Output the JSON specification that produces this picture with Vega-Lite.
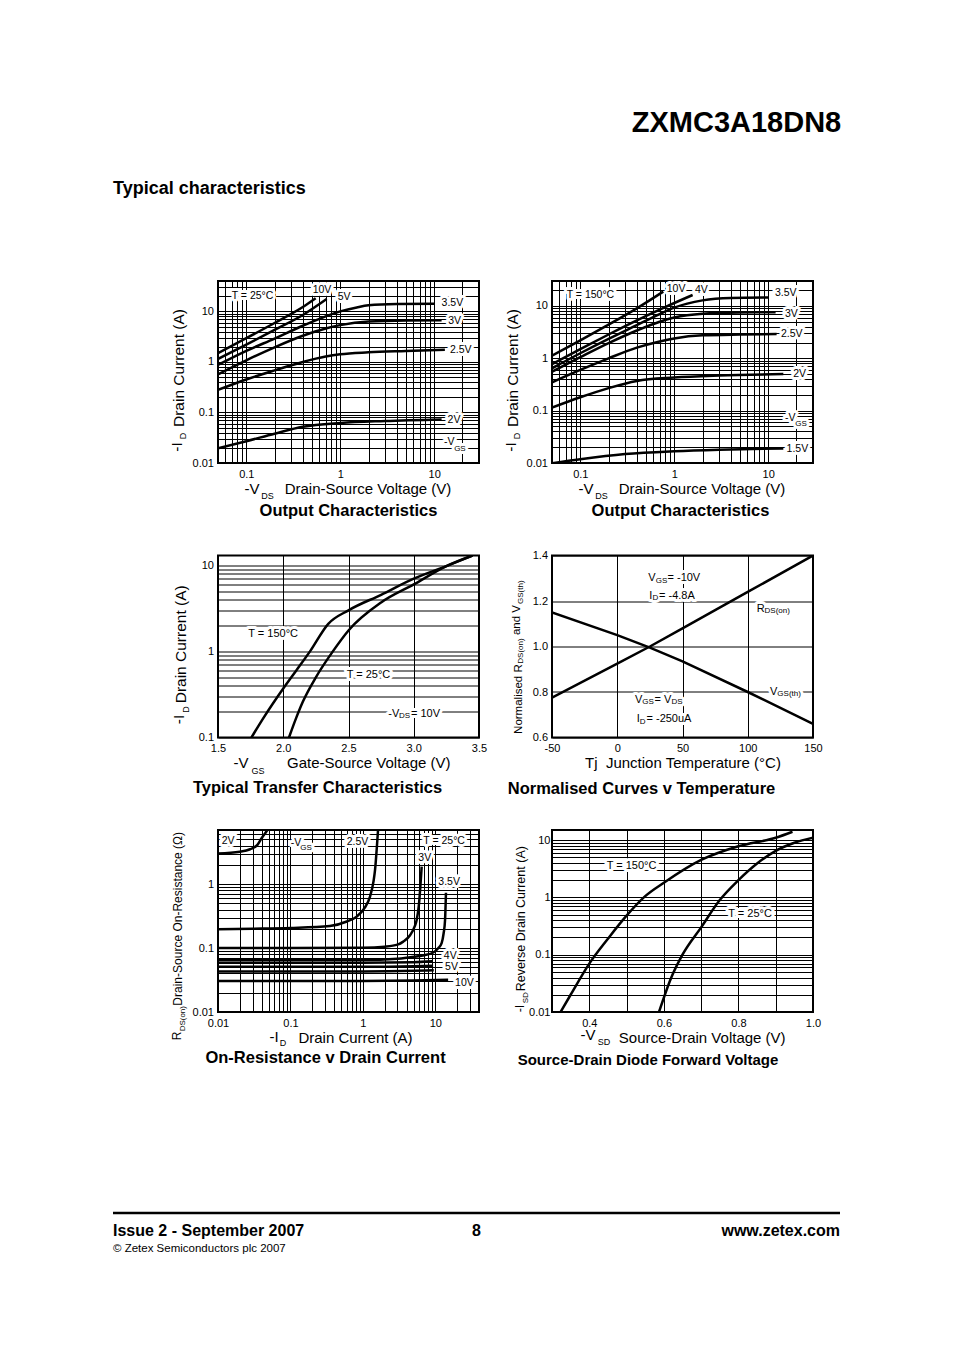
{
  "$schema": "https://vega.github.io/schema/vega-lite/v6.json",
  "background": "white",
  "padding": {"left": 111, "top": 109, "right": 5, "bottom": 10},
  "autosize": {"type": "pad"},
  "config": {
    "font": "Liberation Sans",
    "view": {"stroke": "black", "strokeWidth": 2},
    "axis": {"grid": true, "gridColor": "black", "gridOpacity": 1, "gridWidth": 1, "domain": false, "ticks": false, "labelFont": "Liberation Sans", "labelFontSize": 11, "labelColor": "black", "labelFlush": false, "labelOverlap": false, "labelPadding": 5, "titleFont": "Liberation Sans", "titleFontSize": 15, "titleFontWeight": "normal", "titleColor": "black", "titlePadding": 2},
    "axisY": {"labelPadding": 4.5, "titlePadding": 6, "titleFontSize": 15.5},
    "title": {"font": "Liberation Sans", "fontWeight": "bold", "color": "black"},
    "text": {"font": "Liberation Sans", "color": "black"}
  },
  "datasets": {
    "p1c": [
      {"vgs": "10V", "vds": 0.05, "id": 1.5}, {"vgs": "10V", "vds": 0.1, "id": 2.95}, {"vgs": "10V", "vds": 0.2, "id": 5.9}, {"vgs": "10V", "vds": 0.4, "id": 12.2}, {"vgs": "10V", "vds": 0.548, "id": 18.2},
      {"vgs": "5V", "vds": 0.05, "id": 1.15}, {"vgs": "5V", "vds": 0.1, "id": 2.2}, {"vgs": "5V", "vds": 0.2, "id": 4.3}, {"vgs": "5V", "vds": 0.4, "id": 8.5}, {"vgs": "5V", "vds": 0.718, "id": 17.6},
      {"vgs": "3.5V", "vds": 0.05, "id": 0.87}, {"vgs": "3.5V", "vds": 0.1, "id": 1.65}, {"vgs": "3.5V", "vds": 0.2, "id": 2.9}, {"vgs": "3.5V", "vds": 0.4, "id": 5.2}, {"vgs": "3.5V", "vds": 0.7, "id": 8.0}, {"vgs": "3.5V", "vds": 1, "id": 10}, {"vgs": "3.5V", "vds": 1.5, "id": 12}, {"vgs": "3.5V", "vds": 2, "id": 13.2}, {"vgs": "3.5V", "vds": 4, "id": 14}, {"vgs": "3.5V", "vds": 10, "id": 14.2},
      {"vgs": "3V", "vds": 0.05, "id": 0.57}, {"vgs": "3V", "vds": 0.1, "id": 1.08}, {"vgs": "3V", "vds": 0.2, "id": 1.95}, {"vgs": "3V", "vds": 0.4, "id": 3.3}, {"vgs": "3V", "vds": 0.7, "id": 4.6}, {"vgs": "3V", "vds": 1, "id": 5.35}, {"vgs": "3V", "vds": 2, "id": 6.3}, {"vgs": "3V", "vds": 5, "id": 6.6}, {"vgs": "3V", "vds": 12, "id": 6.65},
      {"vgs": "2.5V", "vds": 0.05, "id": 0.28}, {"vgs": "2.5V", "vds": 0.1, "id": 0.45}, {"vgs": "2.5V", "vds": 0.2, "id": 0.68}, {"vgs": "2.5V", "vds": 0.4, "id": 1.0}, {"vgs": "2.5V", "vds": 0.7, "id": 1.28}, {"vgs": "2.5V", "vds": 1, "id": 1.42}, {"vgs": "2.5V", "vds": 2, "id": 1.55}, {"vgs": "2.5V", "vds": 5, "id": 1.65}, {"vgs": "2.5V", "vds": 13, "id": 1.75},
      {"vgs": "2V", "vds": 0.05, "id": 0.0196}, {"vgs": "2V", "vds": 0.1, "id": 0.027}, {"vgs": "2V", "vds": 0.2, "id": 0.038}, {"vgs": "2V", "vds": 0.4, "id": 0.052}, {"vgs": "2V", "vds": 1, "id": 0.062}, {"vgs": "2V", "vds": 3, "id": 0.068}, {"vgs": "2V", "vds": 12, "id": 0.073}
    ],
    "p1l": [
      {"vds": 0.07, "id": 20.6, "label": "T = 25°C"},
      {"vds": 0.509, "id": 26.5, "label": "10V"},
      {"vds": 0.94, "id": 19.5, "label": "5V"},
      {"vds": 12.0, "id": 14.5, "label": "3.5V"},
      {"vds": 14.1, "id": 6.55, "label": "3V"},
      {"vds": 14.7, "id": 1.72, "label": "2.5V"},
      {"vds": 13.9, "id": 0.071, "label": "2V"},
      {"vds": 12.72, "id": 0.0264, "label": "-V"}
    ],
    "p1s": [{"vds": 18.8, "id": 0.0189, "label": "GS"}],
    "p1ap": [{"vds": 0.115, "id": 0.003058, "label": "-V"}],
    "p1as": [{"vds": 0.168, "id": 0.002254, "label": "DS"}],
    "p1rp": [{"vds": 0.01844, "id": 0.0207, "label": "-I"}],
    "p1rs": [{"vds": 0.02146, "id": 0.0342, "label": "D"}],
    "p2c": [
      {"vgs": "10V", "vds": 0.05, "id": 1.12}, {"vgs": "10V", "vds": 0.1, "id": 2.2}, {"vgs": "10V", "vds": 0.2, "id": 4.4}, {"vgs": "10V", "vds": 0.4, "id": 9}, {"vgs": "10V", "vds": 0.765, "id": 18.8},
      {"vgs": "4V", "vds": 0.05, "id": 0.77}, {"vgs": "4V", "vds": 0.1, "id": 1.5}, {"vgs": "4V", "vds": 0.2, "id": 2.85}, {"vgs": "4V", "vds": 0.4, "id": 5.3}, {"vgs": "4V", "vds": 0.8, "id": 9.5}, {"vgs": "4V", "vds": 1.57, "id": 16.2},
      {"vgs": "3.5V", "vds": 0.05, "id": 0.645}, {"vgs": "3.5V", "vds": 0.1, "id": 1.25}, {"vgs": "3.5V", "vds": 0.2, "id": 2.35}, {"vgs": "3.5V", "vds": 0.4, "id": 4.3}, {"vgs": "3.5V", "vds": 0.7, "id": 7}, {"vgs": "3.5V", "vds": 1, "id": 9.3}, {"vgs": "3.5V", "vds": 2, "id": 12.8}, {"vgs": "3.5V", "vds": 4, "id": 14.2}, {"vgs": "3.5V", "vds": 10, "id": 14.5},
      {"vgs": "3V", "vds": 0.05, "id": 0.555}, {"vgs": "3V", "vds": 0.1, "id": 1.05}, {"vgs": "3V", "vds": 0.2, "id": 1.95}, {"vgs": "3V", "vds": 0.4, "id": 3.4}, {"vgs": "3V", "vds": 0.7, "id": 5.0}, {"vgs": "3V", "vds": 1, "id": 6.0}, {"vgs": "3V", "vds": 2, "id": 7.1}, {"vgs": "3V", "vds": 5, "id": 7.5}, {"vgs": "3V", "vds": 12, "id": 7.6},
      {"vgs": "2.5V", "vds": 0.05, "id": 0.348}, {"vgs": "2.5V", "vds": 0.1, "id": 0.6}, {"vgs": "2.5V", "vds": 0.2, "id": 1.0}, {"vgs": "2.5V", "vds": 0.4, "id": 1.6}, {"vgs": "2.5V", "vds": 0.7, "id": 2.1}, {"vgs": "2.5V", "vds": 1, "id": 2.4}, {"vgs": "2.5V", "vds": 2, "id": 2.75}, {"vgs": "2.5V", "vds": 5, "id": 2.85}, {"vgs": "2.5V", "vds": 12.3, "id": 2.9},
      {"vgs": "2V", "vds": 0.05, "id": 0.114}, {"vgs": "2V", "vds": 0.1, "id": 0.18}, {"vgs": "2V", "vds": 0.2, "id": 0.27}, {"vgs": "2V", "vds": 0.4, "id": 0.37}, {"vgs": "2V", "vds": 1, "id": 0.43}, {"vgs": "2V", "vds": 3, "id": 0.47}, {"vgs": "2V", "vds": 14.5, "id": 0.5},
      {"vgs": "1.5V", "vds": 0.05, "id": 0.0099}, {"vgs": "1.5V", "vds": 0.1, "id": 0.0118}, {"vgs": "1.5V", "vds": 0.3, "id": 0.0148}, {"vgs": "1.5V", "vds": 1, "id": 0.0168}, {"vgs": "1.5V", "vds": 3, "id": 0.018}, {"vgs": "1.5V", "vds": 14.5, "id": 0.019}
    ],
    "p2l": [
      {"vds": 0.0717, "id": 16.2, "label": "T = 150°C"},
      {"vds": 0.832, "id": 21.1, "label": "10V"},
      {"vds": 1.66, "id": 20.2, "label": "4V"},
      {"vds": 11.8, "id": 17.5, "label": "3.5V"},
      {"vds": 15.1, "id": 6.93, "label": "3V"},
      {"vds": 13.7, "id": 2.88, "label": "2.5V"},
      {"vds": 18.5, "id": 0.495, "label": "2V"},
      {"vds": 15.1, "id": 0.0715, "label": "-V"},
      {"vds": 15.7, "id": 0.0185, "label": "1.5V"}
    ],
    "p2s": [{"vds": 22.4, "id": 0.0548, "label": "GS"}],
    "p2ap": [{"vds": 0.115, "id": 0.003187, "label": "-V"}],
    "p2as": [{"vds": 0.168, "id": 0.002393, "label": "DS"}],
    "p2rp": [{"vds": 0.01844, "id": 0.0202, "label": "-I"}],
    "p2rs": [{"vds": 0.02146, "id": 0.0328, "label": "D"}],
    "p3c": [
      {"temp": "150°C", "vgs": 1.756, "id": 0.1}, {"temp": "150°C", "vgs": 1.85, "id": 0.17}, {"temp": "150°C", "vgs": 2.0, "id": 0.37}, {"temp": "150°C", "vgs": 2.1, "id": 0.6}, {"temp": "150°C", "vgs": 2.205, "id": 1.0}, {"temp": "150°C", "vgs": 2.345, "id": 2.09}, {"temp": "150°C", "vgs": 2.5, "id": 3.0}, {"temp": "150°C", "vgs": 2.75, "id": 4.55}, {"temp": "150°C", "vgs": 3.0, "id": 7.0}, {"temp": "150°C", "vgs": 3.25, "id": 9.8}, {"temp": "150°C", "vgs": 3.45, "id": 13},
      {"temp": "25°C", "vgs": 2.044, "id": 0.1}, {"temp": "25°C", "vgs": 2.1, "id": 0.17}, {"temp": "25°C", "vgs": 2.15, "id": 0.26}, {"temp": "25°C", "vgs": 2.25, "id": 0.5}, {"temp": "25°C", "vgs": 2.38, "id": 1.0}, {"temp": "25°C", "vgs": 2.5, "id": 1.75}, {"temp": "25°C", "vgs": 2.75, "id": 3.7}, {"temp": "25°C", "vgs": 3.0, "id": 6.0}, {"temp": "25°C", "vgs": 3.25, "id": 9.8}, {"temp": "25°C", "vgs": 3.45, "id": 13}
    ],
    "p3l": [
      {"vgs": 1.732, "id": 1.6, "label": "T = 150°C"},
      {"vgs": 2.486, "id": 0.525, "label": "T = 25°C"},
      {"vgs": 2.805, "id": 0.188, "label": "-V"},
      {"vgs": 2.979, "id": 0.188, "label": "= 10V"}
    ],
    "p3s": [{"vgs": 2.929, "id": 0.177, "label": "DS"}],
    "p3ap": [{"vgs": 1.6762, "id": 0.0499, "label": "-V"}],
    "p3as": [{"vgs": 1.8065, "id": 0.04136, "label": "GS"}],
    "p3rp": [{"vgs": 1.2042, "id": 0.1618, "label": "-I"}],
    "p3rs": [{"vgs": 1.2517, "id": 0.2114, "label": "D"}],
    "p4c": [
      {"curve": "RDS(on)", "tj": -50, "norm": 0.775}, {"curve": "RDS(on)", "tj": 0, "norm": 0.925}, {"curve": "RDS(on)", "tj": 25, "norm": 1.0}, {"curve": "RDS(on)", "tj": 50, "norm": 1.08}, {"curve": "RDS(on)", "tj": 100, "norm": 1.24}, {"curve": "RDS(on)", "tj": 150, "norm": 1.4},
      {"curve": "VGS(th)", "tj": -50, "norm": 1.15}, {"curve": "VGS(th)", "tj": 0, "norm": 1.05}, {"curve": "VGS(th)", "tj": 25, "norm": 0.995}, {"curve": "VGS(th)", "tj": 50, "norm": 0.935}, {"curve": "VGS(th)", "tj": 100, "norm": 0.8}, {"curve": "VGS(th)", "tj": 150, "norm": 0.66}
    ],
    "p4l": [
      {"tj": 23.8, "norm": 1.302, "label": "V"},
      {"tj": 38.5, "norm": 1.302, "label": "= -10V"},
      {"tj": 24.6, "norm": 1.224, "label": "I"},
      {"tj": 32.0, "norm": 1.224, "label": "= -4.8A"},
      {"tj": 106.9, "norm": 1.163, "label": "R"},
      {"tj": 117.0, "norm": 0.802, "label": "V"},
      {"tj": 13.6, "norm": 0.766, "label": "V"},
      {"tj": 28.6, "norm": 0.766, "label": "= V"},
      {"tj": 14.9, "norm": 0.682, "label": "I"},
      {"tj": 22.4, "norm": 0.682, "label": "= -250uA"}
    ],
    "p4s": [
      {"tj": 33.9, "norm": 1.29, "label": "GS"},
      {"tj": 29.2, "norm": 1.212, "label": "D"},
      {"tj": 122.6, "norm": 1.154, "label": "DS(on)"},
      {"tj": 131.7, "norm": 0.793, "label": "GS(th)"},
      {"tj": 23.6, "norm": 0.755, "label": "GS"},
      {"tj": 45.8, "norm": 0.755, "label": "DS"},
      {"tj": 19.5, "norm": 0.67, "label": "D"}
    ],
    "p4rp": [{"tj": -76.6, "norm": 1.1165, "label": "and V"}],
    "p4rs": [
      {"tj": -73.4, "norm": 0.98, "label": "DS(on)"},
      {"tj": -73.4, "norm": 1.2387, "label": "GS(th)"}
    ],
    "p5c": [
      {"vgs": "2V", "id": 0.01, "rds": 3.0}, {"vgs": "2V", "id": 0.02, "rds": 3.2}, {"vgs": "2V", "id": 0.0277, "rds": 3.5}, {"vgs": "2V", "id": 0.035, "rds": 4.1}, {"vgs": "2V", "id": 0.04, "rds": 5.2}, {"vgs": "2V", "id": 0.046, "rds": 6.5}, {"vgs": "2V", "id": 0.052, "rds": 8},
      {"vgs": "2.5V", "id": 0.01, "rds": 0.196}, {"vgs": "2.5V", "id": 0.03, "rds": 0.2}, {"vgs": "2.5V", "id": 0.1, "rds": 0.206}, {"vgs": "2.5V", "id": 0.35, "rds": 0.221}, {"vgs": "2.5V", "id": 0.6, "rds": 0.26}, {"vgs": "2.5V", "id": 0.82, "rds": 0.31}, {"vgs": "2.5V", "id": 1.05, "rds": 0.42}, {"vgs": "2.5V", "id": 1.25, "rds": 0.63}, {"vgs": "2.5V", "id": 1.4, "rds": 1.1}, {"vgs": "2.5V", "id": 1.47, "rds": 1.66}, {"vgs": "2.5V", "id": 1.55, "rds": 3.5}, {"vgs": "2.5V", "id": 1.63, "rds": 8},
      {"vgs": "3V", "id": 0.01, "rds": 0.1}, {"vgs": "3V", "id": 0.1, "rds": 0.1}, {"vgs": "3V", "id": 1, "rds": 0.101}, {"vgs": "3V", "id": 2, "rds": 0.105}, {"vgs": "3V", "id": 3, "rds": 0.113}, {"vgs": "3V", "id": 3.6, "rds": 0.126}, {"vgs": "3V", "id": 4.5, "rds": 0.16}, {"vgs": "3V", "id": 5.2, "rds": 0.22}, {"vgs": "3V", "id": 5.52, "rds": 0.274}, {"vgs": "3V", "id": 5.9, "rds": 0.45}, {"vgs": "3V", "id": 6.2, "rds": 0.9}, {"vgs": "3V", "id": 6.47, "rds": 1.87},
      {"vgs": "3.5V", "id": 0.01, "rds": 0.065}, {"vgs": "3.5V", "id": 0.1, "rds": 0.065}, {"vgs": "3.5V", "id": 1, "rds": 0.065}, {"vgs": "3.5V", "id": 3, "rds": 0.068}, {"vgs": "3.5V", "id": 4.5, "rds": 0.072}, {"vgs": "3.5V", "id": 7, "rds": 0.077}, {"vgs": "3.5V", "id": 9.36, "rds": 0.085}, {"vgs": "3.5V", "id": 11, "rds": 0.1}, {"vgs": "3.5V", "id": 12.2, "rds": 0.119}, {"vgs": "3.5V", "id": 13, "rds": 0.17}, {"vgs": "3.5V", "id": 13.6, "rds": 0.274}, {"vgs": "3.5V", "id": 14, "rds": 0.73},
      {"vgs": "4V", "id": 0.01, "rds": 0.059}, {"vgs": "4V", "id": 1, "rds": 0.059}, {"vgs": "4V", "id": 5, "rds": 0.06}, {"vgs": "4V", "id": 9, "rds": 0.062},
      {"vgs": "5V", "id": 0.01, "rds": 0.051}, {"vgs": "5V", "id": 1, "rds": 0.051}, {"vgs": "5V", "id": 5, "rds": 0.052}, {"vgs": "5V", "id": 9.3, "rds": 0.053},
      {"vgs": "unlabelled", "id": 0.01, "rds": 0.043}, {"vgs": "unlabelled", "id": 1, "rds": 0.043}, {"vgs": "unlabelled", "id": 5, "rds": 0.044}, {"vgs": "unlabelled", "id": 9.5, "rds": 0.045},
      {"vgs": "10V", "id": 0.01, "rds": 0.0305}, {"vgs": "10V", "id": 1, "rds": 0.0305}, {"vgs": "10V", "id": 5, "rds": 0.031}, {"vgs": "10V", "id": 15, "rds": 0.032}
    ],
    "p5l": [
      {"id": 0.01125, "rds": 4.76, "label": "2V"},
      {"id": 0.1007, "rds": 4.43, "label": "-V"},
      {"id": 0.597, "rds": 4.59, "label": "2.5V"},
      {"id": 6.81, "rds": 4.76, "label": "T = 25°C"},
      {"id": 5.81, "rds": 2.53, "label": "3V"},
      {"id": 10.97, "rds": 1.089, "label": "3.5V"},
      {"id": 13.1, "rds": 0.075, "label": "4V"},
      {"id": 13.6, "rds": 0.051, "label": "5V"},
      {"id": 18.7, "rds": 0.0281, "label": "10V"}
    ],
    "p5s": [{"id": 0.1638, "rds": 3.62, "label": "GS"}],
    "p5ap": [{"id": 0.0593, "rds": 0.004066, "label": "-I"}],
    "p5as": [{"id": 0.0789, "rds": 0.003276, "label": "D"}],
    "p5rp": [{"id": 0.002744, "rds": 0.004215, "label": "R"}],
    "p5rs": [{"id": 0.00334, "rds": 0.00786, "label": "DS(on)"}],
    "p6c": [
      {"temp": "150°C", "vsd": 0.323, "isd": 0.01}, {"temp": "150°C", "vsd": 0.35, "isd": 0.02}, {"temp": "150°C", "vsd": 0.4, "isd": 0.07}, {"temp": "150°C", "vsd": 0.45, "isd": 0.19}, {"temp": "150°C", "vsd": 0.5, "isd": 0.48}, {"temp": "150°C", "vsd": 0.55, "isd": 1.05}, {"temp": "150°C", "vsd": 0.6, "isd": 1.8}, {"temp": "150°C", "vsd": 0.7, "isd": 4.5}, {"temp": "150°C", "vsd": 0.8, "isd": 7.8}, {"temp": "150°C", "vsd": 0.9, "isd": 11}, {"temp": "150°C", "vsd": 0.945, "isd": 14},
      {"temp": "25°C", "vsd": 0.587, "isd": 0.01}, {"temp": "25°C", "vsd": 0.62, "isd": 0.04}, {"temp": "25°C", "vsd": 0.65, "isd": 0.1}, {"temp": "25°C", "vsd": 0.7, "isd": 0.3}, {"temp": "25°C", "vsd": 0.75, "isd": 0.9}, {"temp": "25°C", "vsd": 0.8, "isd": 2.0}, {"temp": "25°C", "vsd": 0.85, "isd": 3.9}, {"temp": "25°C", "vsd": 0.9, "isd": 6.5}, {"temp": "25°C", "vsd": 0.95, "isd": 9}, {"temp": "25°C", "vsd": 1.0, "isd": 11}
    ],
    "p6l": [
      {"vsd": 0.4467, "isd": 3.57, "label": "T = 150°C"},
      {"vsd": 0.7728, "isd": 0.513, "label": "T = 25°C"}
    ],
    "p6ap": [{"vsd": 0.3966, "isd": 0.003969, "label": "-V"}],
    "p6as": [{"vsd": 0.4395, "isd": 0.002996, "label": "SD"}],
    "p6rp": [{"vsd": 0.2155, "isd": 0.01151, "label": "-I"}],
    "p6rs": [{"vsd": 0.2316, "isd": 0.01777, "label": "SD"}],
    "spacer": [{"cell": "spacer"}]
  },
  "title": {"text": "ZXMC3A18DN8", "anchor": "end", "fontSize": 29, "offset": 42},
  "spacing": 142,
  "vconcat": [
    {
      "title": {"text": "Typical characteristics", "anchor": "start", "frame": "group", "fontSize": 18, "offset": 76},
      "columns": 3,
      "bounds": "flush",
      "spacing": {"row": 92.5, "column": 73},
      "concat": [
        {"width": 32, "height": 182, "view": {"stroke": null}, "data": {"name": "spacer"}, "mark": {"type": "point", "opacity": 0, "size": 0}, "encoding": {}},
        {
          "width": 261, "height": 182,
          "title": {"text": "Output Characteristics", "orient": "bottom", "fontSize": 16.5, "offset": 2},
          "encoding": {
            "x": {"field": "vds", "type": "quantitative", "scale": {"type": "log", "domain": [0.05, 30], "nice": false},
                  "axis": {"title": "Drain-Source Voltage (V)", "titleX": 149.5, "values": [0.05,0.06,0.07,0.08,0.09,0.1,0.2,0.3,0.4,0.5,0.6,0.7,0.8,0.9,1,2,3,4,5,6,7,8,9,10,20,30], "labelExpr": "abs(log(datum.value)/LN10 - round(log(datum.value)/LN10)) < 0.01 ? format(datum.value, '~g') : ''"}},
            "y": {"field": "id", "type": "quantitative", "scale": {"type": "log", "domain": [0.01, 40], "nice": false},
                  "axis": {"title": "Drain Current (A)", "titleY": 86.5, "values": [0.01,0.02,0.03,0.04,0.05,0.06,0.07,0.08,0.09,0.1,0.2,0.3,0.4,0.5,0.6,0.7,0.8,0.9,1,2,3,4,5,6,7,8,9,10,20,30,40], "labelExpr": "abs(log(datum.value)/LN10 - round(log(datum.value)/LN10)) < 0.01 ? format(datum.value, '~g') : ''"}}
          },
          "layer": [
            {"data": {"name": "p1l"}, "mark": {"type": "text", "align": "left", "baseline": "middle", "fontSize": 10.5, "color": "white", "stroke": "white", "strokeWidth": 6, "strokeJoin": "round"}, "encoding": {"text": {"field": "label"}}},
            {"data": {"name": "p1s"}, "mark": {"type": "text", "align": "center", "baseline": "middle", "fontSize": 8, "color": "white", "stroke": "white", "strokeWidth": 6, "strokeJoin": "round"}, "encoding": {"text": {"field": "label"}}},
            {"data": {"name": "p1c"}, "mark": {"type": "line", "clip": true, "strokeWidth": 2.5, "color": "black", "interpolate": "monotone"}, "encoding": {"detail": {"field": "vgs"}}},
            {"data": {"name": "p1l"}, "mark": {"type": "text", "align": "left", "baseline": "middle", "fontSize": 10.5}, "encoding": {"text": {"field": "label"}}},
            {"data": {"name": "p1s"}, "mark": {"type": "text", "align": "center", "baseline": "middle", "fontSize": 8}, "encoding": {"text": {"field": "label"}}},
            {"data": {"name": "p1ap"}, "mark": {"type": "text", "align": "center", "baseline": "middle", "fontSize": 15}, "encoding": {"text": {"field": "label"}}},
            {"data": {"name": "p1as"}, "mark": {"type": "text", "align": "center", "baseline": "middle", "fontSize": 9}, "encoding": {"text": {"field": "label"}}},
            {"data": {"name": "p1rp"}, "mark": {"type": "text", "align": "center", "baseline": "middle", "fontSize": 15.5, "angle": 270}, "encoding": {"text": {"field": "label"}}},
            {"data": {"name": "p1rs"}, "mark": {"type": "text", "align": "center", "baseline": "middle", "fontSize": 9, "angle": 270}, "encoding": {"text": {"field": "label"}}}
          ]
        },
        {
          "width": 261, "height": 182,
          "title": {"text": "Output Characteristics", "orient": "bottom", "fontSize": 16.5, "offset": 2, "dx": -2},
          "encoding": {
            "x": {"field": "vds", "type": "quantitative", "scale": {"type": "log", "domain": [0.05, 30], "nice": false},
                  "axis": {"title": "Drain-Source Voltage (V)", "titleX": 149.5, "values": [0.05,0.06,0.07,0.08,0.09,0.1,0.2,0.3,0.4,0.5,0.6,0.7,0.8,0.9,1,2,3,4,5,6,7,8,9,10,20,30], "labelExpr": "abs(log(datum.value)/LN10 - round(log(datum.value)/LN10)) < 0.01 ? format(datum.value, '~g') : ''"}},
            "y": {"field": "id", "type": "quantitative", "scale": {"type": "log", "domain": [0.01, 30], "nice": false},
                  "axis": {"title": "Drain Current (A)", "titleY": 86.5, "values": [0.01,0.02,0.03,0.04,0.05,0.06,0.07,0.08,0.09,0.1,0.2,0.3,0.4,0.5,0.6,0.7,0.8,0.9,1,2,3,4,5,6,7,8,9,10,20,30], "labelExpr": "abs(log(datum.value)/LN10 - round(log(datum.value)/LN10)) < 0.01 ? format(datum.value, '~g') : ''"}}
          },
          "layer": [
            {"data": {"name": "p2l"}, "mark": {"type": "text", "align": "left", "baseline": "middle", "fontSize": 10.5, "color": "white", "stroke": "white", "strokeWidth": 6, "strokeJoin": "round"}, "encoding": {"text": {"field": "label"}}},
            {"data": {"name": "p2s"}, "mark": {"type": "text", "align": "center", "baseline": "middle", "fontSize": 8, "color": "white", "stroke": "white", "strokeWidth": 6, "strokeJoin": "round"}, "encoding": {"text": {"field": "label"}}},
            {"data": {"name": "p2c"}, "mark": {"type": "line", "clip": true, "strokeWidth": 2.5, "color": "black", "interpolate": "monotone"}, "encoding": {"detail": {"field": "vgs"}}},
            {"data": {"name": "p2l"}, "mark": {"type": "text", "align": "left", "baseline": "middle", "fontSize": 10.5}, "encoding": {"text": {"field": "label"}}},
            {"data": {"name": "p2s"}, "mark": {"type": "text", "align": "center", "baseline": "middle", "fontSize": 8}, "encoding": {"text": {"field": "label"}}},
            {"data": {"name": "p2ap"}, "mark": {"type": "text", "align": "center", "baseline": "middle", "fontSize": 15}, "encoding": {"text": {"field": "label"}}},
            {"data": {"name": "p2as"}, "mark": {"type": "text", "align": "center", "baseline": "middle", "fontSize": 9}, "encoding": {"text": {"field": "label"}}},
            {"data": {"name": "p2rp"}, "mark": {"type": "text", "align": "center", "baseline": "middle", "fontSize": 15.5, "angle": 270}, "encoding": {"text": {"field": "label"}}},
            {"data": {"name": "p2rs"}, "mark": {"type": "text", "align": "center", "baseline": "middle", "fontSize": 9, "angle": 270}, "encoding": {"text": {"field": "label"}}}
          ]
        },
        {"width": 32, "height": 182, "view": {"stroke": null}, "data": {"name": "spacer"}, "mark": {"type": "point", "opacity": 0, "size": 0}, "encoding": {}},
        {
          "width": 261, "height": 182,
          "title": {"text": "Typical Transfer Characteristics", "orient": "bottom", "fontSize": 16.5, "offset": 4, "dx": -31},
          "encoding": {
            "x": {"field": "vgs", "type": "quantitative", "scale": {"domain": [1.5, 3.5], "nice": false, "zero": false},
                  "axis": {"title": "Gate-Source Voltage (V)", "titleX": 150.3, "values": [1.5, 2, 2.5, 3, 3.5], "format": ".1f"}},
            "y": {"field": "id", "type": "quantitative", "scale": {"type": "log", "domain": [0.1, 13], "nice": false},
                  "axis": {"title": "Drain Current (A)", "titleY": 88.3, "titlePadding": 10, "values": [0.1,0.2,0.3,0.4,0.5,0.6,0.7,0.8,0.9,1,2,3,4,5,6,7,8,9,10], "labelExpr": "abs(log(datum.value)/LN10 - round(log(datum.value)/LN10)) < 0.01 ? format(datum.value, '~g') : ''"}}
          },
          "layer": [
            {"data": {"name": "p3l"}, "mark": {"type": "text", "align": "left", "baseline": "middle", "fontSize": 11, "color": "white", "stroke": "white", "strokeWidth": 6, "strokeJoin": "round"}, "encoding": {"text": {"field": "label"}}},
            {"data": {"name": "p3s"}, "mark": {"type": "text", "align": "center", "baseline": "middle", "fontSize": 8, "color": "white", "stroke": "white", "strokeWidth": 6, "strokeJoin": "round"}, "encoding": {"text": {"field": "label"}}},
            {"data": {"name": "p3c"}, "mark": {"type": "line", "clip": true, "strokeWidth": 2.5, "color": "black", "interpolate": "monotone"}, "encoding": {"detail": {"field": "temp"}}},
            {"data": {"name": "p3l"}, "mark": {"type": "text", "align": "left", "baseline": "middle", "fontSize": 11}, "encoding": {"text": {"field": "label"}}},
            {"data": {"name": "p3s"}, "mark": {"type": "text", "align": "center", "baseline": "middle", "fontSize": 8}, "encoding": {"text": {"field": "label"}}},
            {"data": {"name": "p3ap"}, "mark": {"type": "text", "align": "center", "baseline": "middle", "fontSize": 15}, "encoding": {"text": {"field": "label"}}},
            {"data": {"name": "p3as"}, "mark": {"type": "text", "align": "center", "baseline": "middle", "fontSize": 9}, "encoding": {"text": {"field": "label"}}},
            {"data": {"name": "p3rp"}, "mark": {"type": "text", "align": "center", "baseline": "middle", "fontSize": 15.5, "angle": 270}, "encoding": {"text": {"field": "label"}}},
            {"data": {"name": "p3rs"}, "mark": {"type": "text", "align": "center", "baseline": "middle", "fontSize": 9, "angle": 270}, "encoding": {"text": {"field": "label"}}}
          ]
        },
        {
          "width": 261, "height": 182,
          "title": {"text": "Normalised Curves v Temperature", "orient": "bottom", "fontSize": 16.5, "offset": 10, "dx": -41},
          "encoding": {
            "x": {"field": "tj", "type": "quantitative", "scale": {"domain": [-50, 150], "nice": false},
                  "axis": {"title": "Tj\u00a0\u00a0Junction Temperature (°C)", "values": [-50, 0, 50, 100, 150], "labelExpr": "'' + datum.value"}},
            "y": {"field": "norm", "type": "quantitative", "scale": {"domain": [0.6, 1.4], "nice": false, "zero": false},
                  "axis": {"title": "Normalised R", "titleFontSize": 11.5, "titleY": 143.1, "titlePadding": 8.3, "values": [0.6, 0.8, 1.0, 1.2, 1.4], "format": ".1f"}}
          },
          "layer": [
            {"data": {"name": "p4l"}, "mark": {"type": "text", "align": "left", "baseline": "middle", "fontSize": 11, "color": "white", "stroke": "white", "strokeWidth": 6, "strokeJoin": "round"}, "encoding": {"text": {"field": "label"}}},
            {"data": {"name": "p4s"}, "mark": {"type": "text", "align": "center", "baseline": "middle", "fontSize": 8, "color": "white", "stroke": "white", "strokeWidth": 6, "strokeJoin": "round"}, "encoding": {"text": {"field": "label"}}},
            {"data": {"name": "p4c"}, "mark": {"type": "line", "clip": true, "strokeWidth": 2.5, "color": "black"}, "encoding": {"detail": {"field": "curve"}}},
            {"data": {"name": "p4l"}, "mark": {"type": "text", "align": "left", "baseline": "middle", "fontSize": 11}, "encoding": {"text": {"field": "label"}}},
            {"data": {"name": "p4s"}, "mark": {"type": "text", "align": "center", "baseline": "middle", "fontSize": 8}, "encoding": {"text": {"field": "label"}}},
            {"data": {"name": "p4rp"}, "mark": {"type": "text", "align": "center", "baseline": "middle", "fontSize": 11.5, "angle": 270}, "encoding": {"text": {"field": "label"}}},
            {"data": {"name": "p4rs"}, "mark": {"type": "text", "align": "center", "baseline": "middle", "fontSize": 8, "angle": 270}, "encoding": {"text": {"field": "label"}}}
          ]
        },
        {"width": 32, "height": 182, "view": {"stroke": null}, "data": {"name": "spacer"}, "mark": {"type": "point", "opacity": 0, "size": 0}, "encoding": {}},
        {
          "width": 261, "height": 182,
          "title": {"text": "On-Resistance v Drain Current", "orient": "bottom", "fontSize": 16.5, "offset": 2, "dx": -23},
          "encoding": {
            "x": {"field": "id", "type": "quantitative", "scale": {"type": "log", "domain": [0.01, 40], "nice": false},
                  "axis": {"title": "Drain Current (A)", "titleX": 137, "values": [0.01,0.02,0.03,0.04,0.05,0.06,0.07,0.08,0.09,0.1,0.2,0.3,0.4,0.5,0.6,0.7,0.8,0.9,1,2,3,4,5,6,7,8,9,10,20,30,40], "labelExpr": "abs(log(datum.value)/LN10 - round(log(datum.value)/LN10)) < 0.01 ? format(datum.value, '~g') : ''"}},
            "y": {"field": "rds", "type": "quantitative", "scale": {"type": "log", "domain": [0.01, 7], "nice": false},
                  "axis": {"title": "Drain-Source On-Resistance (Ω)", "titleFontSize": 12, "titleY": 88.3, "titlePadding": 8, "values": [0.01,0.02,0.03,0.04,0.05,0.06,0.07,0.08,0.09,0.1,0.2,0.3,0.4,0.5,0.6,0.7,0.8,0.9,1,2,3,4,5,6,7], "labelExpr": "abs(log(datum.value)/LN10 - round(log(datum.value)/LN10)) < 0.01 ? format(datum.value, '~g') : ''"}}
          },
          "layer": [
            {"data": {"name": "p5l"}, "mark": {"type": "text", "align": "left", "baseline": "middle", "fontSize": 10.5, "color": "white", "stroke": "white", "strokeWidth": 6, "strokeJoin": "round"}, "encoding": {"text": {"field": "label"}}},
            {"data": {"name": "p5s"}, "mark": {"type": "text", "align": "center", "baseline": "middle", "fontSize": 8, "color": "white", "stroke": "white", "strokeWidth": 6, "strokeJoin": "round"}, "encoding": {"text": {"field": "label"}}},
            {"data": {"name": "p5c"}, "mark": {"type": "line", "clip": true, "strokeWidth": 2.5, "color": "black", "interpolate": "monotone"}, "encoding": {"detail": {"field": "vgs"}}},
            {"data": {"name": "p5l"}, "mark": {"type": "text", "align": "left", "baseline": "middle", "fontSize": 10.5}, "encoding": {"text": {"field": "label"}}},
            {"data": {"name": "p5s"}, "mark": {"type": "text", "align": "center", "baseline": "middle", "fontSize": 8}, "encoding": {"text": {"field": "label"}}},
            {"data": {"name": "p5ap"}, "mark": {"type": "text", "align": "center", "baseline": "middle", "fontSize": 15}, "encoding": {"text": {"field": "label"}}},
            {"data": {"name": "p5as"}, "mark": {"type": "text", "align": "center", "baseline": "middle", "fontSize": 9}, "encoding": {"text": {"field": "label"}}},
            {"data": {"name": "p5rp"}, "mark": {"type": "text", "align": "center", "baseline": "middle", "fontSize": 12, "angle": 270}, "encoding": {"text": {"field": "label"}}},
            {"data": {"name": "p5rs"}, "mark": {"type": "text", "align": "center", "baseline": "middle", "fontSize": 8, "angle": 270}, "encoding": {"text": {"field": "label"}}}
          ]
        },
        {
          "width": 261, "height": 182,
          "title": {"text": "Source-Drain Diode Forward Voltage", "orient": "bottom", "fontSize": 15, "offset": 6, "dx": -34.5},
          "encoding": {
            "x": {"field": "vsd", "type": "quantitative", "scale": {"domain": [0.3, 1.0], "nice": false, "zero": false},
                  "axis": {"title": "Source-Drain Voltage (V)", "titleX": 149.7, "values": [0.3, 0.4, 0.5, 0.6, 0.7, 0.8, 0.9, 1.0], "labelExpr": "datum.value > 0.35 && abs(datum.value*5 - round(datum.value*5)) < 0.01 ? format(datum.value, '.1f') : ''"}},
            "y": {"field": "isd", "type": "quantitative", "scale": {"type": "log", "domain": [0.01, 15], "nice": false},
                  "axis": {"title": "Reverse Drain Current (A)", "titleFontSize": 12.5, "titleY": 88.2, "titlePadding": 1, "labelPadding": 2, "values": [0.01,0.02,0.03,0.04,0.05,0.06,0.07,0.08,0.09,0.1,0.2,0.3,0.4,0.5,0.6,0.7,0.8,0.9,1,2,3,4,5,6,7,8,9,10], "labelExpr": "abs(log(datum.value)/LN10 - round(log(datum.value)/LN10)) < 0.01 ? format(datum.value, '~g') : ''"}}
          },
          "layer": [
            {"data": {"name": "p6l"}, "mark": {"type": "text", "align": "left", "baseline": "middle", "fontSize": 11, "color": "white", "stroke": "white", "strokeWidth": 6, "strokeJoin": "round"}, "encoding": {"text": {"field": "label"}}},
            {"data": {"name": "p6c"}, "mark": {"type": "line", "clip": true, "strokeWidth": 2.5, "color": "black", "interpolate": "monotone"}, "encoding": {"detail": {"field": "temp"}}},
            {"data": {"name": "p6l"}, "mark": {"type": "text", "align": "left", "baseline": "middle", "fontSize": 11}, "encoding": {"text": {"field": "label"}}},
            {"data": {"name": "p6ap"}, "mark": {"type": "text", "align": "center", "baseline": "middle", "fontSize": 15}, "encoding": {"text": {"field": "label"}}},
            {"data": {"name": "p6as"}, "mark": {"type": "text", "align": "center", "baseline": "middle", "fontSize": 9}, "encoding": {"text": {"field": "label"}}},
            {"data": {"name": "p6rp"}, "mark": {"type": "text", "align": "center", "baseline": "middle", "fontSize": 12.5, "angle": 270}, "encoding": {"text": {"field": "label"}}},
            {"data": {"name": "p6rs"}, "mark": {"type": "text", "align": "center", "baseline": "middle", "fontSize": 8, "angle": 270}, "encoding": {"text": {"field": "label"}}}
          ]
        }
      ]
    },
    {
      "width": 727, "height": 36,
      "view": {"stroke": null},
      "layer": [
        {"data": {"values": [{"item": "footer rule"}]}, "mark": {"type": "rule", "strokeWidth": 2.5, "color": "black"},
         "encoding": {"x": {"datum": 0, "type": "quantitative", "scale": {"domain": [0, 1]}, "axis": null}, "x2": {"datum": 1}, "y": {"datum": "rule", "type": "nominal", "scale": {"type": "point", "domain": ["rule", "main", "sub"], "padding": 0}, "axis": null}}},
        {"data": {"values": [{"text": "Issue 2 - September 2007"}]}, "mark": {"type": "text", "align": "left", "baseline": "middle", "fontSize": 16, "fontWeight": "bold"},
         "encoding": {"x": {"datum": 0, "type": "quantitative", "axis": null}, "y": {"datum": "main", "type": "nominal", "axis": null}, "text": {"field": "text"}}},
        {"data": {"values": [{"text": "8"}]}, "mark": {"type": "text", "align": "center", "baseline": "middle", "fontSize": 16, "fontWeight": "bold"},
         "encoding": {"x": {"datum": 0.5, "type": "quantitative", "axis": null}, "y": {"datum": "main", "type": "nominal", "axis": null}, "text": {"field": "text"}}},
        {"data": {"values": [{"text": "www.zetex.com"}]}, "mark": {"type": "text", "align": "right", "baseline": "middle", "fontSize": 16, "fontWeight": "bold"},
         "encoding": {"x": {"datum": 1, "type": "quantitative", "axis": null}, "y": {"datum": "main", "type": "nominal", "axis": null}, "text": {"field": "text"}}},
        {"data": {"values": [{"text": "© Zetex Semiconductors plc 2007"}]}, "mark": {"type": "text", "align": "left", "baseline": "middle", "fontSize": 11.5},
         "encoding": {"x": {"datum": 0, "type": "quantitative", "axis": null}, "y": {"datum": "sub", "type": "nominal", "axis": null}, "text": {"field": "text"}}}
      ]
    }
  ]
}
